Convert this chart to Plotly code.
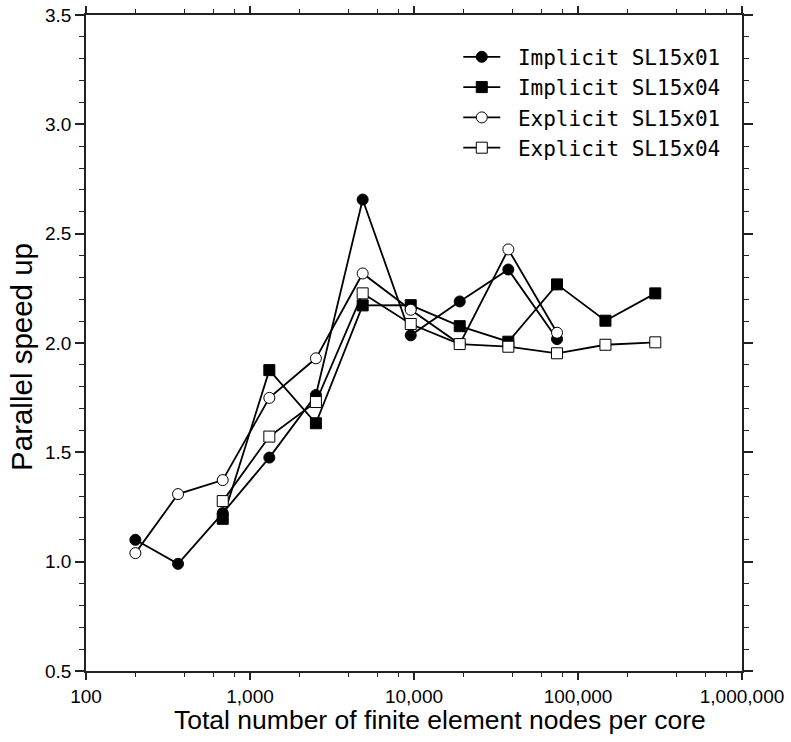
import plotly.graph_objects as go

# Nodes per core for each run (shared x positions)
nodes = [200, 364, 682, 1312, 2523, 4864, 9550, 19000, 37600, 74500, 147000, 296000]

# Parallel speed-up per series
implicit_x01 = [1.10, 0.99, 1.222, 1.476, 1.762, 2.656, 2.035, 2.19, 2.336, 2.018]
implicit_x04 = [1.196, 1.876, 1.633, 2.172, 2.173, 2.077, 2.006, 2.268, 2.102, 2.227]
explicit_x01 = [1.039, 1.309, 1.373, 1.749, 1.930, 2.318, 2.152, 1.995, 2.428, 2.047]
explicit_x04 = [1.277, 1.572, 1.730, 2.227, 2.087, 1.995, 1.983, 1.953, 1.992, 2.003]

series = [
    ("Implicit SL15x01", nodes[0:10], implicit_x01, "circle", "black"),
    ("Implicit SL15x04", nodes[2:12], implicit_x04, "square", "black"),
    ("Explicit SL15x01", nodes[0:10], explicit_x01, "circle", "white"),
    ("Explicit SL15x04", nodes[2:12], explicit_x04, "square", "white"),
]

x_ticks = [100, 1000, 10000, 100000, 1000000]
x_minor = [m * 10 ** e for e in range(2, 6) for m in (2, 4, 6, 8)]
y_ticks = [0.5, 1.0, 1.5, 2.0, 2.5, 3.0, 3.5]
y_minor = [round(0.5 + 0.1 * i, 1) for i in range(31)]

x_title = "Total number of finite element nodes per core"
y_title = "Parallel speed up"

SANS = "Liberation Sans, Arial, sans-serif"
NBSP = "\u00a0"

fig = go.Figure()
for name, xs, ys, sym, fill in series:
    fig.add_trace(go.Scatter(
        x=xs, y=ys, name=NBSP + name, mode="lines+markers",
        line=dict(color="black", width=1.8),
        marker=dict(symbol=sym, size=11, color=fill,
                    line=dict(color="black", width=1)),
    ))

axis_common = dict(
    showline=True, linecolor="#222", linewidth=1.5, mirror="ticks",
    ticks="outside", tickwidth=1.5, tickcolor="#222",
    showgrid=False, zeroline=False, automargin=False,
    tickfont=dict(family=SANS, size=19, color="black"),
)

fig.update_xaxes(
    type="log", range=[2, 6], tickmode="array", tickvals=x_ticks, tickformat=",d",
    ticklen=7,
    minor=dict(tickmode="array", tickvals=x_minor, ticks="outside", ticklen=4,
               tickwidth=1.2, tickcolor="#222"),
    **axis_common,
)
fig.update_yaxes(
    range=[0.5, 3.5], tickmode="array", tickvals=y_ticks, tickformat=".1f",
    ticklen=9,
    minor=dict(tickmode="array", tickvals=y_minor, ticks="outside", ticklen=5,
               tickwidth=1.2, tickcolor="#222"),
    **axis_common,
)

# Axis titles placed as paper-anchored text
fig.add_annotation(
    text=x_title, xref="paper", yref="paper", x=0.5396, y=-0.0747,
    xanchor="center", yanchor="middle", showarrow=False,
    font=dict(family=SANS, size=26.5, color="black"),
)
fig.add_annotation(
    text=y_title, xref="paper", yref="paper", x=-0.0976, y=0.4787,
    xanchor="center", yanchor="middle", showarrow=False, textangle=-90,
    font=dict(family=SANS, size=29.5, color="black"),
)

fig.update_layout(
    width=791, height=742,
    margin=dict(l=86, r=49, t=15, b=71),
    plot_bgcolor="white", paper_bgcolor="white",
    showlegend=True,
    legend=dict(
        x=0.5675, y=0.967, xanchor="left", yanchor="top", itemwidth=37,
        bgcolor="rgba(0,0,0,0)", borderwidth=0, tracegroupgap=0,
        font=dict(family="DejaVu Sans Mono, monospace", size=21, color="black"),
    ),
)

fig.write_html("out.html")
